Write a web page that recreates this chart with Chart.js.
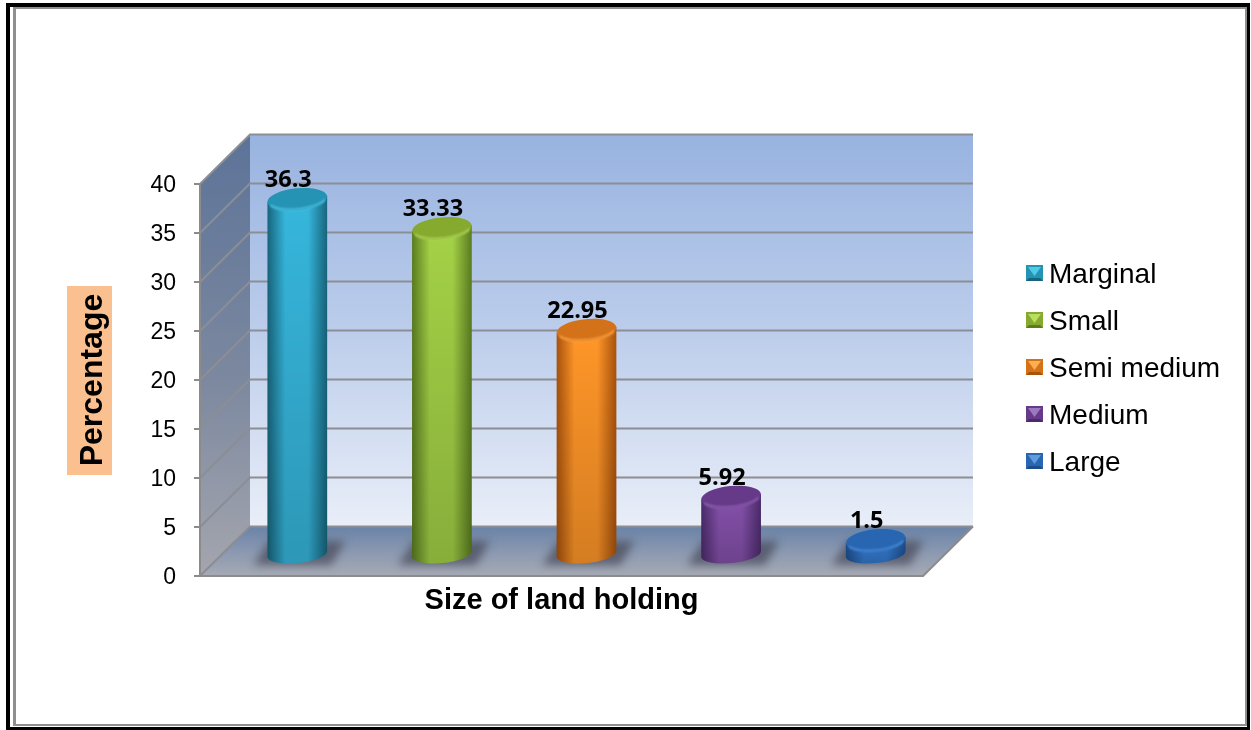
<!DOCTYPE html>
<html>
<head>
<meta charset="utf-8">
<title>Size of land holding</title>
<script src="https://cdn.jsdelivr.net/npm/chart.js@4/dist/chart.umd.min.js"></script>
<style>
  html, body { margin: 0; padding: 0; background: #fff; }
  canvas { display: block; }
</style>
</head>
<body>
<canvas id="chart" width="1251" height="730"></canvas>
<script>
const categories = ["Marginal", "Small", "Semi medium", "Medium", "Large"];
const shareValues = [36.3, 33.33, 22.95, 5.92, 1.5];
const shareLabels = ["36.3", "33.33", "22.95", "5.92", "1.5"];
const xTitle = "Size of land holding";
const yTitle = "Percentage";

// cylinder palette per category: edge, body highlight, cap, rim
const barEdge = ["#17657c", "#5a7c20", "#a9520c", "#4a2b6a", "#1c4c8a"];
const barLight = ["#36b6dc", "#a3d146", "#ff9628", "#8450aa", "#3377ca"];
const barCap = ["#2593b4", "#86aa2e", "#d4721a", "#663a88", "#2866b2"];
const barRim = ["#4cc3e4", "#b0d85a", "#ffa648", "#9060b4", "#4a8ad6"];
const swatchTop = ["#4fcbe8", "#bade62", "#ffae50", "#9c78c0", "#5f9ade"];

// offset of the back wall relative to the front frame
const WALL_DX = 50, WALL_DY = 49.5;
// bars stand half way into the floor
const BAR_DX = 25, BAR_DY = -21;

function vGrad(ctx, y0, y1, stops) {
  const g = ctx.createLinearGradient(0, y0, 0, y1);
  stops.forEach(([p, c]) => g.addColorStop(p, c));
  return g;
}

function polygon(ctx, pts, fill) {
  ctx.beginPath();
  pts.forEach(([x, y], i) => i ? ctx.lineTo(x, y) : ctx.moveTo(x, y));
  ctx.closePath();
  ctx.fillStyle = fill;
  ctx.fill();
}

function drawFrame(ctx) {
  ctx.fillStyle = "#000";
  ctx.fillRect(6, 3, 1244, 4);
  ctx.fillRect(6, 3, 4, 726);
  ctx.fillRect(1247, 3, 3, 726);
  ctx.fillRect(6, 727, 1244, 3);
  ctx.fillStyle = "#8f8f8f";
  ctx.fillRect(13, 7, 1234, 2);
  ctx.fillRect(13, 7, 3, 719);
  ctx.fillRect(1245, 7, 2, 719);
  ctx.fillRect(13, 724, 1234, 2);
}

function drawWalls(chart) {
  const { ctx, chartArea: a, scales: { y: yScale } } = chart;
  const L = a.left, R = a.right, T = a.top, B = a.bottom;
  const bl = L + WALL_DX, br = R + WALL_DX, bt = T - WALL_DY, bb = B - WALL_DY;

  polygon(ctx, [[bl, bt], [br, bt], [br, bb], [bl, bb]],
    vGrad(ctx, bt, bb, [[0, "#98b3e0"], [0.5, "#bccdeb"], [1, "#e9eef8"]]));
  polygon(ctx, [[L, T], [bl, bt], [bl, bb], [L, B]],
    vGrad(ctx, bt, B, [[0, "#5c7398"], [0.55, "#7c889f"], [1, "#a4a6ae"]]));
  polygon(ctx, [[L, B], [bl, bb], [br, bb], [R, B]],
    vGrad(ctx, bb, B, [[0, "#6a83a8"], [0.5, "#8a98b0"], [1, "#a6aab4"]]));

  ctx.lineWidth = 2;
  yScale.ticks.forEach(t => {
    const y = yScale.getPixelForValue(t.value);
    ctx.strokeStyle = "#8b8e94";
    ctx.beginPath();
    ctx.moveTo(L, y);
    ctx.lineTo(bl, y - WALL_DY);
    ctx.lineTo(br, y - WALL_DY);
    ctx.stroke();
  });
  // floor and side wall outline
  ctx.strokeStyle = "#8b8b8b";
  ctx.beginPath();
  ctx.moveTo(L, T);
  ctx.lineTo(L, B);
  ctx.lineTo(R, B);
  ctx.lineTo(br, bb);
  ctx.stroke();
}

// skewed floor shadow falling back and to the right of a bar
function drawShadow(ctx, cx, cy, rx) {
  ctx.save();
  ctx.filter = "blur(4px)";
  ctx.fillStyle = "rgba(66,66,80,0.66)";
  ctx.beginPath();
  ctx.moveTo(cx - rx - 14, cy + 11);
  ctx.lineTo(cx + rx + 4, cy + 11);
  ctx.lineTo(cx + rx + 18, cy - 13);
  ctx.lineTo(cx - rx + 2, cy - 13);
  ctx.closePath();
  ctx.fill();
  ctx.restore();
}

function drawCylinder(ctx, el, i) {
  const cx = el.x + BAR_DX;
  const rx = el.width / 2;
  const topY = el.y + BAR_DY;
  const baseY = el.base + BAR_DY;
  const tilt = -0.1, ryTop = 11, ryBase = 9;
  const dy = rx * Math.sin(tilt), dxe = rx * Math.cos(tilt);

  drawShadow(ctx, cx, baseY, rx);

  const side = new Path2D();
  side.ellipse(cx, baseY, rx, ryBase, tilt, 0, Math.PI);
  side.lineTo(cx - dxe, topY - dy);
  side.lineTo(cx + dxe, topY + dy);
  side.closePath();

  const h = ctx.createLinearGradient(cx - rx, 0, cx + rx, 0);
  h.addColorStop(0, barEdge[i]);
  h.addColorStop(0.3, barLight[i]);
  h.addColorStop(0.68, barLight[i]);
  h.addColorStop(1, barEdge[i]);
  ctx.fillStyle = h;
  ctx.fill(side);
  ctx.fillStyle = vGrad(ctx, topY, baseY + ryBase, [[0, "rgba(0,0,0,0)"], [1, "rgba(0,0,0,0.17)"]]);
  ctx.fill(side);

  // cap with a soft brighter lower rim
  ctx.beginPath();
  ctx.ellipse(cx, topY, rx, ryTop, tilt, 0, Math.PI * 2);
  ctx.fillStyle = barCap[i];
  ctx.fill();
  ctx.save();
  ctx.filter = "blur(1px)";
  ctx.beginPath();
  ctx.ellipse(cx, topY, rx - 1, ryTop - 1, tilt, 0.35, Math.PI - 0.35);
  ctx.strokeStyle = barRim[i];
  ctx.lineWidth = 2;
  ctx.stroke();
  ctx.restore();
}

function drawValueLabel(ctx, el, i) {
  ctx.font = "bold 23.5px 'Open Sans'";
  ctx.fillStyle = "#000";
  ctx.textAlign = "center";
  ctx.textBaseline = "alphabetic";
  ctx.fillText(shareLabels[i], el.x + BAR_DX - 9, el.y + BAR_DY - 12);
}

function drawLegend(ctx) {
  const x = 1026, w = 17, h = 16;
  categories.forEach((name, i) => {
    const cy = 273 + i * 47;
    const top = cy - h / 2, bot = cy + h / 2, mx = x + w / 2;
    polygon(ctx, [[x, top], [x + w, top], [x + w, bot], [x, bot]], barCap[i]);
    polygon(ctx, [[x + 2, top + 2], [x + w - 2, top + 2], [mx, cy + 3]], swatchTop[i]);
    polygon(ctx, [[x, bot], [x + w, bot], [x + w - 3, bot - 3], [x + 3, bot - 3]], barEdge[i]);
    ctx.font = "28px 'Liberation Sans'";
    ctx.fillStyle = "#000";
    ctx.textAlign = "left";
    ctx.textBaseline = "middle";
    ctx.fillText(name, 1049, cy + 2);
  });
}

const scene3d = {
  id: "scene3d",
  beforeDraw(chart) {
    const { ctx } = chart;
    ctx.save();
    ctx.fillStyle = "#fff";
    ctx.fillRect(0, 0, chart.width, chart.height);
    drawFrame(ctx);
    // swatch behind the rotated axis title
    ctx.fillStyle = "#fac090";
    ctx.fillRect(67, 286, 45, 189);
    ctx.restore();
  },
  beforeDatasetsDraw(chart) {
    chart.ctx.save();
    drawWalls(chart);
    chart.ctx.restore();
  },
  afterDatasetsDraw(chart) {
    const { ctx } = chart;
    const bars = chart.getDatasetMeta(0).data;
    ctx.save();
    bars.forEach((el, i) => drawCylinder(ctx, el, i));
    bars.forEach((el, i) => drawValueLabel(ctx, el, i));
    drawLegend(ctx);
    ctx.restore();
  }
};

new Chart(document.getElementById("chart"), {
  type: "bar",
  data: {
    labels: categories,
    datasets: [{
      label: xTitle,
      data: shareValues,
      backgroundColor: "rgba(0,0,0,0)",   // cylinders are painted by scene3d
      barPercentage: 0.415,
      categoryPercentage: 1
    }]
  },
  plugins: [scene3d],
  options: {
    responsive: false,
    animation: false,
    layout: { padding: { left: 0, top: 184, right: 328, bottom: 0 } },
    plugins: { legend: { display: false }, tooltip: { enabled: false } },
    scales: {
      x: {
        ticks: { display: false },
        grid: { display: false },
        border: { display: false },
        afterFit(s) { s.height = 154; },
        title: {
          display: true,
          text: xTitle,
          color: "#000",
          font: { family: "'Liberation Sans'", size: 29, weight: "bold" },
          padding: { top: 0, bottom: 112 }
        }
      },
      y: {
        min: 0,
        max: 40,
        ticks: {
          stepSize: 5,
          color: "#000",
          padding: 18,
          labelOffset: 2,
          font: { family: "'Liberation Sans'", size: 23 }
        },
        grid: { drawOnChartArea: false, drawTicks: true, tickLength: 6, color: "#8b8b8b", lineWidth: 2 },
        border: { display: false },
        afterFit(s) { s.width = 200; },
        title: {
          display: true,
          text: yTitle,
          color: "#000",
          font: { family: "'Liberation Sans'", size: 32, weight: "bold" },
          padding: { top: 74, bottom: 0 }
        }
      }
    }
  }
});
</script>
</body>
</html>
